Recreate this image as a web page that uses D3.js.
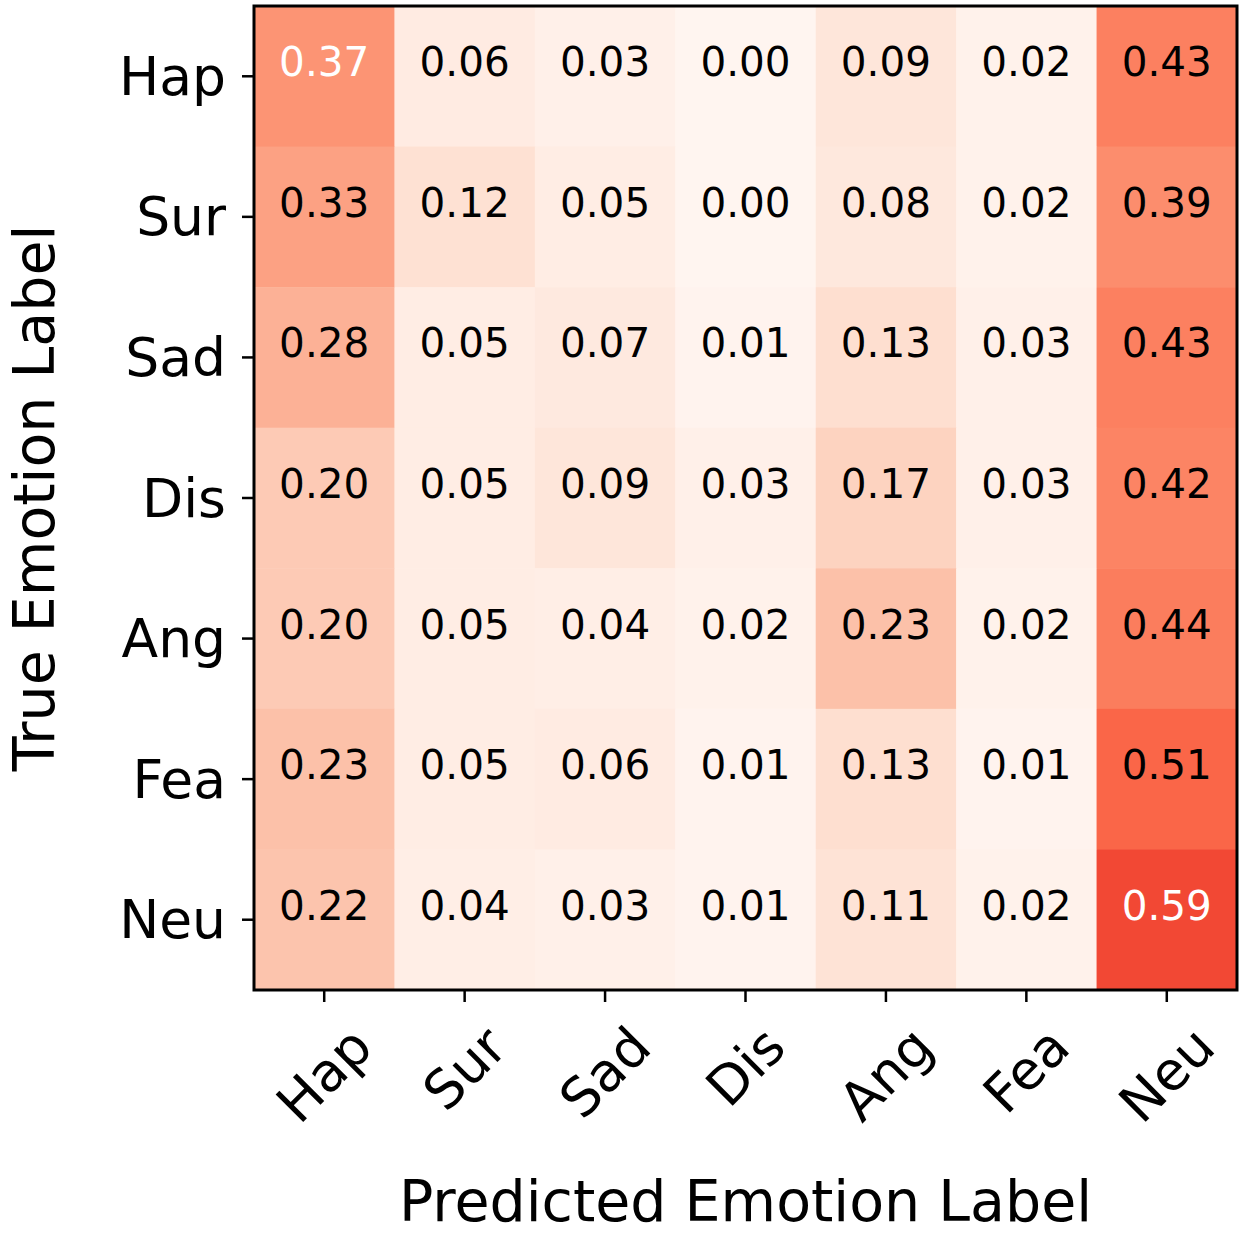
<!DOCTYPE html>
<html>
<head>
<meta charset="utf-8">
<script src="https://cdn.jsdelivr.net/npm/d3@7"></script>
<style>
  html, body { margin: 0; padding: 0; background: #fff; }
  svg { display: block; font-family: "DejaVu Sans", sans-serif; }
</style>
</head>
<body>
<svg id="chart" width="1249" height="1234"></svg>
<script>
// ---- data ----
const predictedLabels = ["Hap", "Sur", "Sad", "Dis", "Ang", "Fea", "Neu"];
const trueLabels      = ["Hap", "Sur", "Sad", "Dis", "Ang", "Fea", "Neu"];
const rowHap = [0.37, 0.06, 0.03, 0.00, 0.09, 0.02, 0.43];
const rowSur = [0.33, 0.12, 0.05, 0.00, 0.08, 0.02, 0.39];
const rowSad = [0.28, 0.05, 0.07, 0.01, 0.13, 0.03, 0.43];
const rowDis = [0.20, 0.05, 0.09, 0.03, 0.17, 0.03, 0.42];
const rowAng = [0.20, 0.05, 0.04, 0.02, 0.23, 0.02, 0.44];
const rowFea = [0.23, 0.05, 0.06, 0.01, 0.13, 0.01, 0.51];
const rowNeu = [0.22, 0.04, 0.03, 0.01, 0.11, 0.02, 0.59];
const matrix = [rowHap, rowSur, rowSad, rowDis, rowAng, rowFea, rowNeu];
// cells whose annotation is drawn in white [row, col]
const whiteTextCells = [[0, 0], [6, 6]];
const xTitle = "Predicted Emotion Label";
const yTitle = "True Emotion Label";

// ---- layout ----
const svg = d3.select("#chart");
const pLeft = 254, pRight = 1237, pTop = 6, pBottom = 990;

const x = d3.scaleBand().domain(predictedLabels).range([pLeft, pRight]).padding(0);
const y = d3.scaleBand().domain(trueLabels).range([pTop, pBottom]).padding(0);

// matplotlib "Reds" (linear between ColorBrewer stops), vmin 0, vmax 1
const redsStops = ["#fff5f0","#fee0d2","#fcbba1","#fc9272","#fb6a4a","#ef3b2c","#cb181d","#a50f15","#67000d"];
const color = d3.scaleLinear()
  .domain(d3.range(redsStops.length).map(i => i / (redsStops.length - 1)))
  .range(redsStops)
  .interpolate(d3.interpolateRgb)
  .clamp(true);

const cells = [];
matrix.forEach((row, i) => row.forEach((v, j) => cells.push({ r: trueLabels[i], c: predictedLabels[j], i, j, v })));

svg.append("g").selectAll("rect").data(cells).join("rect")
  .attr("x", d => x(d.c))
  .attr("y", d => y(d.r))
  .attr("width", x.bandwidth() + 0.5)
  .attr("height", y.bandwidth() + 0.5)
  .attr("fill", d => color(d.v));

const isWhite = d => whiteTextCells.some(([a, b]) => a === d.i && b === d.j);
svg.append("g").selectAll("text").data(cells).join("text")
  .attr("x", d => x(d.c) + x.bandwidth() / 2)
  .attr("y", d => y(d.r) + y.bandwidth() / 2)
  .attr("text-anchor", "middle")
  .attr("font-size", 40.5)
  .attr("fill", d => isWhite(d) ? "#ffffff" : "#000000")
  .text(d => d.v.toFixed(2));

// frame
svg.append("rect")
  .attr("x", pLeft).attr("y", pTop)
  .attr("width", pRight - pLeft).attr("height", pBottom - pTop)
  .attr("fill", "none").attr("stroke", "#000").attr("stroke-width", 3);

// y axis
const yAxis = svg.append("g");
trueLabels.forEach(l => {
  const cy = y(l) + y.bandwidth() / 2;
  yAxis.append("line").attr("x1", pLeft - 12).attr("x2", pLeft).attr("y1", cy).attr("y2", cy)
    .attr("stroke", "#000").attr("stroke-width", 2.5);
  yAxis.append("text").attr("x", pLeft - 28).attr("y", cy)
    .attr("text-anchor", "end").attr("dominant-baseline", "central")
    .attr("font-size", 53.5).text(l);
});

// x axis
const xAxis = svg.append("g");
const tickTop = 1015;
predictedLabels.forEach(l => {
  const cx = x(l) + x.bandwidth() / 2;
  xAxis.append("line").attr("x1", cx).attr("x2", cx).attr("y1", pBottom).attr("y2", pBottom + 12)
    .attr("stroke", "#000").attr("stroke-width", 2.5);
  const t = xAxis.append("text")
    .attr("text-anchor", "middle").attr("dominant-baseline", "central")
    .attr("font-size", 53.5).text(l);
  const w = t.node().getComputedTextLength();
  const h = 53.5 * 1.16;
  const bh = (w + h) * Math.SQRT1_2;
  t.attr("transform", `translate(${cx},${tickTop + bh / 2}) rotate(-45)`);
});

// titles
svg.append("text")
  .attr("x", (pLeft + pRight) / 2).attr("y", 1221)
  .attr("text-anchor", "middle").attr("font-size", 57)
  .text(xTitle);
svg.append("text")
  .attr("transform", `translate(54, ${(pTop + pBottom) / 2}) rotate(-90)`)
  .attr("text-anchor", "middle").attr("font-size", 57)
  .text(yTitle);
</script>
</body>
</html>
